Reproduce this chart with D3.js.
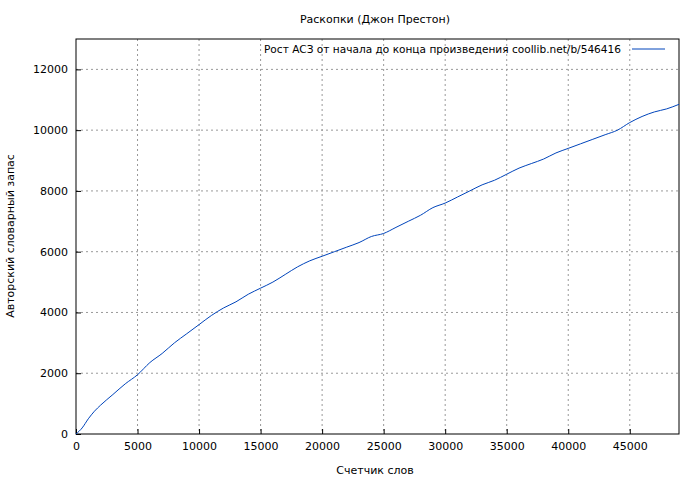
<!DOCTYPE html>
<html><head><meta charset="utf-8">
<script src="https://cdn.jsdelivr.net/npm/d3@7"></script>
<style>body{margin:0;background:#fff}text{font-family:"DejaVu Sans",sans-serif;font-size:11px;fill:#000}</style>
</head><body><svg id="c" width="700" height="480"></svg>
<script>
const words = [0,500,1000,1500,2000,3000,4000,5000,6000,7000,8000,9000,10000,11000,12000,13000,14000,15000,16000,17000,18000,19000,20000,21000,22000,23000,24000,25000,26000,27000,28000,29000,30000,31000,32000,33000,34000,35000,36000,37000,38000,39000,40000,41000,42000,43000,44000,45000,46000,47000,48000,49000];
const vocab = [0,200,500,750,950,1300,1650,1950,2350,2650,3000,3300,3600,3900,4150,4350,4600,4800,5000,5250,5500,5700,5850,6000,6150,6300,6500,6600,6800,7000,7200,7450,7600,7800,8000,8200,8350,8550,8750,8900,9050,9250,9400,9550,9700,9850,10000,10250,10450,10600,10700,10850];
const xTicks = d3.range(0, 45001, 5000);
const yTicks = d3.range(0, 12001, 2000);

const m = {l:76, r:679, t:39, b:434};
const svg = d3.select("#c");
const x = d3.scaleLinear().domain([0, 49000]).range([m.l, m.r]);
const y = d3.scaleLinear().domain([0, 13000]).range([m.b, m.t]);

// grid
svg.selectAll(".gx").data(xTicks.slice(1)).join("line")
  .attr("x1", d => x(d)).attr("x2", d => x(d)).attr("y1", m.t).attr("y2", m.b)
  .attr("stroke", "#999").attr("stroke-dasharray", "2,3");
svg.selectAll(".gy").data(yTicks.slice(1)).join("line")
  .attr("x1", m.l).attr("x2", m.r).attr("y1", d => y(d)).attr("y2", d => y(d))
  .attr("stroke", "#999").attr("stroke-dasharray", "2,3");

svg.append("g").attr("transform", `translate(0,${m.b})`)
  .call(d3.axisBottom(x).tickValues(xTicks).tickSize(-5).tickPadding(8).tickFormat(d3.format("d")))
  .call(g => g.select(".domain").remove());
svg.append("g").attr("transform", `translate(${m.l},0)`)
  .call(d3.axisLeft(y).tickValues(yTicks).tickSize(-5).tickPadding(8).tickFormat(d3.format("d")))
  .call(g => g.select(".domain").remove());
svg.selectAll(".tick text").style("font-size", "11px").style("font-family", "DejaVu Sans");

svg.append("rect").attr("x", m.l).attr("y", m.t).attr("width", m.r - m.l).attr("height", m.b - m.t)
  .attr("fill", "none").attr("stroke", "#000");

svg.append("path").datum(words.map((w, i) => [w, vocab[i]]))
  .attr("d", d3.line().x(d => x(d[0])).y(d => y(d[1])).curve(d3.curveMonotoneX))
  .attr("fill", "none").attr("stroke", "#0044bb").attr("stroke-width", 1);

svg.append("text").attr("x", 375).attr("y", 23).attr("text-anchor", "middle").text("Раскопки (Джон Престон)");
svg.append("text").attr("x", 375).attr("y", 474).attr("text-anchor", "middle").text("Счетчик слов");
svg.append("text").attr("transform", "translate(14,236) rotate(-90)").attr("text-anchor", "middle").text("Авторский словарный запас");
svg.append("text").attr("x", 264).attr("y", 53).attr("textLength", 357).attr("lengthAdjust", "spacingAndGlyphs")
  .text("Рост АСЗ от начала до конца произведения  coollib.net/b/546416");
svg.append("line").attr("x1", 632).attr("x2", 665).attr("y1", 49).attr("y2", 49).attr("stroke", "#0044bb");
</script></body></html>
